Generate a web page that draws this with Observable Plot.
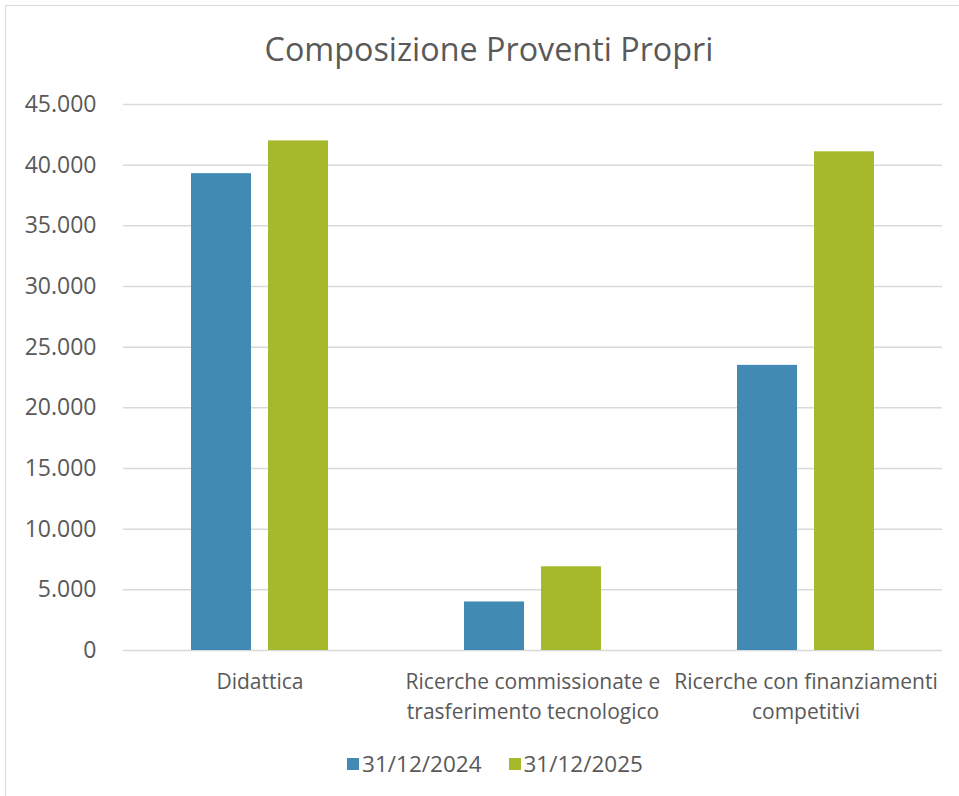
<!DOCTYPE html>
<html>
<head>
<meta charset="utf-8">
<script src="https://cdn.jsdelivr.net/npm/d3@7"></script>
<script src="https://cdn.jsdelivr.net/npm/@observablehq/plot@0.6"></script>
<style>
  body { margin: 0; background: #fff; font-family: "Open Sans", sans-serif; }
  #wrap { position: relative; width: 959px; height: 796px; overflow: hidden; }
  #frame { position: absolute; left: 5px; top: 5px; width: 1000px; height: 1000px; border: 1.5px solid #d9d9d9; box-sizing: border-box; }
  #title { position: absolute; left: 0; width: 978px; top: 26px; text-align: center; font-size: 32.3px; line-height: 44px; color: #595959; }
  #chart { position: absolute; left: 0; top: 0; }
  #legend { position: absolute; left: 0; width: 990px; top: 749px; display: flex; justify-content: center; gap: 27px; font-size: 22.5px; line-height: 30px; color: #595959; }
  #legend .item { display: flex; align-items: center; gap: 3px; }
  #legend .sw { width: 12px; height: 12px; display: inline-block; }
</style>
</head>
<body>
<div id="wrap">
  <div id="frame"></div>
  <div id="title"></div>
  <div id="chart"></div>
  <div id="legend"></div>
</div>
<script>
const title = "Composizione Proventi Propri";
const categories = ["Didattica", "Ricerche commissionate e trasferimento tecnologico", "Ricerche con finanziamenti competitivi"];
const categoryLabels = ["Didattica", "Ricerche commissionate e\ntrasferimento tecnologico", "Ricerche con finanziamenti\ncompetitivi"];
const seriesNames = ["31/12/2024", "31/12/2025"];
const values2024 = [39300, 4000, 23500];
const values2025 = [42000, 6900, 41100];
const colors = ["#418AB3", "#A6B92B"];
const yTicks = [0, 5000, 10000, 15000, 20000, 25000, 30000, 35000, 40000, 45000];

const data = [];
categories.forEach((c, i) => {
  data.push({category: c, series: seriesNames[0], value: values2024[i]});
  data.push({category: c, series: seriesNames[1], value: values2025[i]});
});

const itFormat = d3.formatLocale({decimal: ",", thousands: ".", grouping: [3], currency: ["€", ""]}).format(",d");
const catFormat = d => categoryLabels[categories.indexOf(d)];

document.getElementById("title").textContent = title;

const plot = Plot.plot({
  width: 959,
  height: 740,
  marginTop: 104,
  marginLeft: 122,
  marginRight: 17,
  marginBottom: 90,
  style: {fontFamily: "Open Sans, sans-serif", fontSize: "21px", color: "#595959", background: "transparent"},
  fx: {domain: categories, padding: 0, label: null},
  x: {domain: seriesNames, axis: null, paddingInner: 0.218, paddingOuter: 0.861},
  y: {domain: [0, 45000], label: null},
  color: {domain: seriesNames, range: colors},
  marks: [
    Plot.gridY(yTicks, {stroke: "#d9d9d9", strokeOpacity: 1, strokeWidth: 1.5}),
    Plot.barY(data, {fx: "category", x: "series", y: "value", fill: "series"}),
    Plot.axisFx({anchor: "bottom", label: null, tickSize: 0, tickPadding: 17, lineHeight: 1.43, fontSize: 21,
       tickFormat: catFormat}),
    Plot.axisY(yTicks, {anchor: "left", label: null, tickFormat: itFormat, tickSize: 0, tickPadding: 27, fontSize: 23})
  ]
});
document.getElementById("chart").appendChild(plot);

const legend = document.getElementById("legend");
seriesNames.forEach((s, i) => {
  const item = document.createElement("span");
  item.className = "item";
  const sw = document.createElement("span");
  sw.className = "sw";
  sw.style.background = colors[i];
  const t = document.createElement("span");
  t.textContent = s;
  item.appendChild(sw);
  item.appendChild(t);
  legend.appendChild(item);
});
</script>
</body>
</html>
